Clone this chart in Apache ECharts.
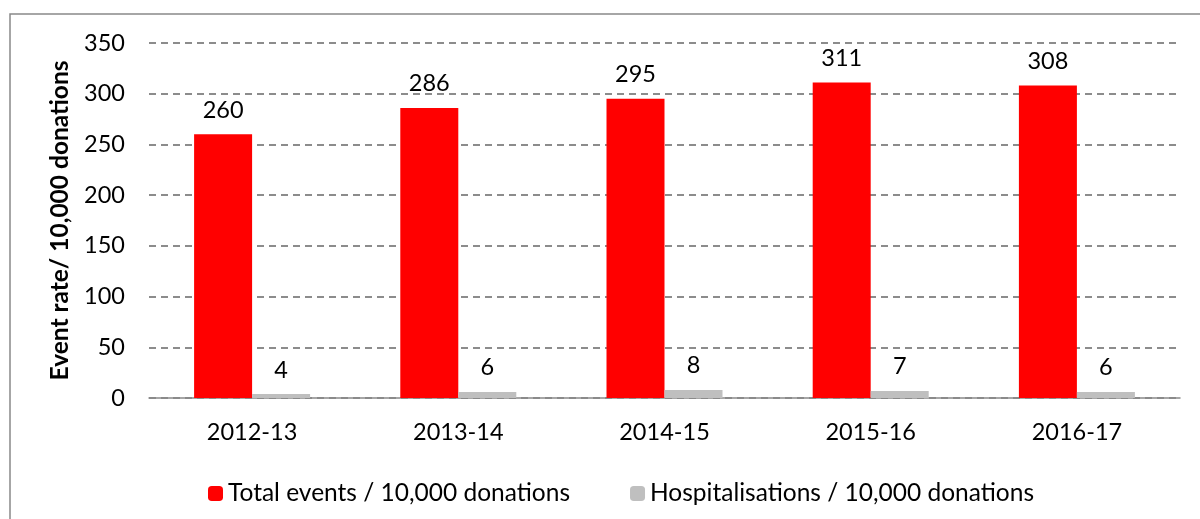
<!DOCTYPE html>
<html>
<head>
<meta charset="utf-8">
<script src="https://cdn.jsdelivr.net/npm/echarts@6/dist/echarts.min.js"></script>
<style>
    html, body { margin: 0; padding: 0; background: #fff; }
    #chart { width: 1200px; height: 519px; }
</style>
</head>
<body>
<div id="chart"></div>
<script>
const years = ['2012-13', '2013-14', '2014-15', '2015-16', '2016-17']
const totalEvents = [260, 286, 295, 311, 308]
const hospitalisations = [4, 6, 8, 7, 6]
const seriesNames = ['Total events / 10,000 donations', 'Hospitalisations / 10,000 donations']

const font = 'Lato, "Noto Sans", sans-serif'

const labelStyle = {
    show: true,
    position: 'top',
    distance: 12,
    color: '#000',
    fontSize: 23.5,
    fontFamily: font,
}

const chart = echarts.init(document.getElementById('chart'))
chart.setOption({
    animation: false,
    textStyle: { fontFamily: font },
    graphic: [
        {
            type: 'rect',
            z: -10,
            shape: { x: 10, y: 14, width: 1200, height: 520 },
            style: { fill: 'none', stroke: '#898989', lineWidth: 1.5 },
        },
    ],
    legend: {
        data: seriesNames,
        top: 476,
        left: 203,
        itemWidth: 15,
        itemHeight: 15,
        itemGap: 60,
        itemStyle: { borderWidth: 0 },
        textStyle: { fontSize: 24.5, color: '#000', fontFamily: font },
    },
    grid: {
        left: 149,
        right: 20,
        top: 43,
        bottom: 121,
    },
    xAxis: {
        type: 'category',
        data: years,
        axisLine: { lineStyle: { color: '#898989', width: 1.5 } },
        axisTick: { length: 7, lineStyle: { color: '#898989', width: 1.5 } },
        axisLabel: { color: '#000', fontSize: 23.5, margin: 22, fontFamily: font },
    },
    yAxis: {
        type: 'value',
        min: 0,
        max: 350,
        interval: 50,
        name: 'Event rate/ 10,000 donations',
        nameLocation: 'middle',
        nameGap: 76,
        nameTextStyle: { color: '#000', fontSize: 24.5, fontWeight: 'bold', fontFamily: font },
        axisLine: { show: false },
        axisTick: { show: false },
        axisLabel: { color: '#000', fontSize: 23.5, margin: 24, fontFamily: font },
        splitLine: { lineStyle: { color: '#8c8c8c', width: 2, type: [7, 5] } },
    },
    series: [
        {
            name: seriesNames[0],
            type: 'bar',
            data: totalEvents,
            barWidth: 58,
            barGap: '0%',
            itemStyle: { color: '#ff0000' },
            label: labelStyle,
        },
        {
            name: seriesNames[1],
            type: 'bar',
            data: hospitalisations,
            barWidth: 58,
            itemStyle: { color: '#bfbfbf' },
            label: labelStyle,
        },
    ],
})
</script>
</body>
</html>
